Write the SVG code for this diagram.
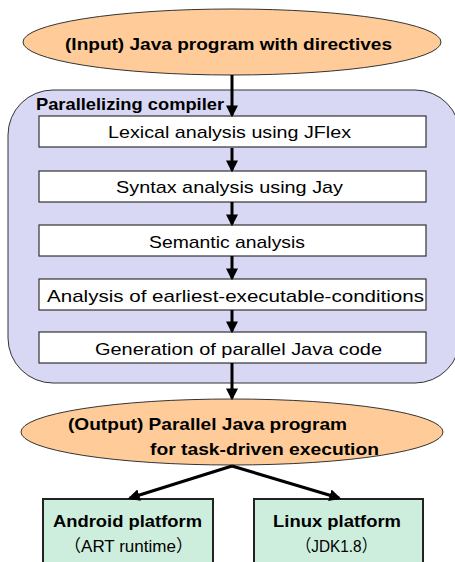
<svg xmlns="http://www.w3.org/2000/svg" width="455" height="562" viewBox="0 0 455 562">
<style>
text{font-family:"Liberation Sans","Noto Sans CJK JP",sans-serif;fill:#000;}
.b{font-weight:bold;font-size:17px;}
.n{font-size:17px;}
.ell{fill:#FFCC99;stroke:#333;stroke-width:1;}
.step{fill:#fff;stroke:#333;stroke-width:1.2;}
.plat{fill:#CDEEDD;stroke:#222;stroke-width:2;}
.conn{stroke:#000;stroke-width:3;fill:none;}
</style>
<defs>
<marker id="ah" markerWidth="4" markerHeight="4" refX="3.2" refY="2" orient="auto" markerUnits="strokeWidth">
<path d="M0,0 L4,2 L0,4 z" fill="#000"/>
</marker>
</defs>
<g id="input">
<ellipse class="ell" cx="232" cy="42" rx="209" ry="33"/>
<text class="b" x="65" y="50" textLength="327" lengthAdjust="spacingAndGlyphs">(Input) Java program with directives</text>
</g>
<g id="compiler">
<rect x="8" y="90" width="452" height="293" rx="45" ry="45" fill="#D8D8F4" stroke="#333" stroke-width="1"/>
<text class="b" x="36" y="110" textLength="188" lengthAdjust="spacingAndGlyphs">Parallelizing compiler</text>
</g>
<g id="lexical">
<rect class="step" x="39" y="116" width="387" height="31"/>
<text class="n" x="108" y="138" textLength="243" lengthAdjust="spacingAndGlyphs">Lexical analysis using JFlex</text>
</g>
<g id="syntax">
<rect class="step" x="39" y="171" width="387" height="31"/>
<text class="n" x="116" y="193" textLength="227" lengthAdjust="spacingAndGlyphs">Syntax analysis using Jay</text>
</g>
<g id="semantic">
<rect class="step" x="39" y="225" width="387" height="31"/>
<text class="n" x="149" y="248" textLength="156" lengthAdjust="spacingAndGlyphs">Semantic analysis</text>
</g>
<g id="earliest">
<rect class="step" x="39" y="279" width="387" height="31"/>
<text class="n" x="47" y="302" textLength="377" lengthAdjust="spacingAndGlyphs">Analysis of earliest-executable-conditions</text>
</g>
<g id="generation">
<rect class="step" x="39" y="332" width="387" height="31"/>
<text class="n" x="95" y="355" textLength="287" lengthAdjust="spacingAndGlyphs">Generation of parallel Java code</text>
</g>
<g id="output">
<ellipse class="ell" cx="232" cy="432" rx="211" ry="33"/>
<text class="b" x="68" y="430" textLength="279" lengthAdjust="spacingAndGlyphs">(Output) Parallel Java program</text>
<text class="b" x="150" y="455" textLength="229" lengthAdjust="spacingAndGlyphs">for task-driven execution</text>
</g>
<g id="android">
<rect class="plat" x="43" y="499" width="170" height="66"/>
<text class="b" x="53" y="527" textLength="149" lengthAdjust="spacingAndGlyphs">Android platform</text>
<text class="n" x="64" y="552" textLength="129" lengthAdjust="spacingAndGlyphs">（ART runtime）</text>
</g>
<g id="linux">
<rect class="plat" x="254" y="499" width="169" height="66"/>
<text class="b" x="273" y="527" textLength="128" lengthAdjust="spacingAndGlyphs">Linux platform</text>
<text class="n" x="296" y="552" textLength="81" lengthAdjust="spacingAndGlyphs">（JDK1.8）</text>
</g>
<g id="connectors">
<line class="conn" x1="232" y1="75" x2="232" y2="115" marker-end="url(#ah)"/>
<line class="conn" x1="232" y1="148" x2="232" y2="170" marker-end="url(#ah)"/>
<line class="conn" x1="232" y1="202" x2="232" y2="224" marker-end="url(#ah)"/>
<line class="conn" x1="232" y1="256" x2="232" y2="278" marker-end="url(#ah)"/>
<line class="conn" x1="232" y1="310" x2="232" y2="331" marker-end="url(#ah)"/>
<line class="conn" x1="232" y1="363" x2="232" y2="398" marker-end="url(#ah)"/>
<line class="conn" x1="232" y1="466" x2="130" y2="498" marker-end="url(#ah)"/>
<line class="conn" x1="232" y1="466" x2="339" y2="498" marker-end="url(#ah)"/>
</g>
</svg>
